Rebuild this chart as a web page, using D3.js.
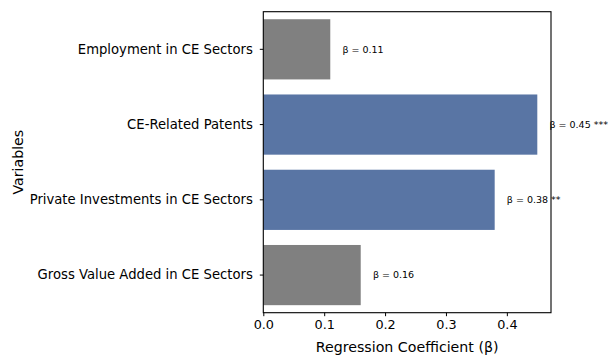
<!DOCTYPE html>
<html><head><meta charset="utf-8">
<script src="https://cdn.jsdelivr.net/npm/d3@7"></script>
<style>body{margin:0;background:#fff}svg{display:block}text{font-family:"DejaVu Sans",sans-serif}</style>
</head><body><svg id="c" width="608" height="356"></svg>
<script>
const categories = ["Employment in CE Sectors","CE-Related Patents","Private Investments in CE Sectors","Gross Value Added in CE Sectors"];
const values = [0.11, 0.45, 0.38, 0.16];
const stars = ["", "***", "**", ""];
const significant = [false, true, true, false];
const xTicks = [0.0, 0.1, 0.2, 0.3, 0.4];
const xTickLabels = ["0.0","0.1","0.2","0.3","0.4"];

const W = 608, H = 356;
const m = {left: 263.3, top: 11.7, right: 57, bottom: 43.3};
const svg = d3.select("#c");
const x = d3.scaleLinear().domain([0, 0.4725]).range([m.left, W - m.right]);
const y = d3.scaleBand().domain(categories).range([m.top, H - m.bottom]).paddingInner(0.2).paddingOuter(0.1);

svg.append("g").selectAll("rect").data(categories).join("rect")
  .attr("x", x(0)).attr("y", d => y(d))
  .attr("width", (d,i) => x(values[i]) - x(0))
  .attr("height", y.bandwidth())
  .attr("fill", (d,i) => significant[i] ? "#5975a4" : "#808080");

svg.append("g").selectAll("text").data(categories).join("text")
  .attr("x", (d,i) => x(values[i] + 0.02))
  .attr("y", d => y(d) + y.bandwidth()/2)
  .attr("dy", "0.35em")
  .attr("font-size", 9.5)
  .attr("fill", "#000")
  .text((d,i) => "β = " + values[i].toFixed(2) + (stars[i] ? " " + stars[i] : ""));

// frame
svg.append("rect").attr("x", m.left).attr("y", m.top)
  .attr("width", W - m.right - m.left).attr("height", H - m.bottom - m.top)
  .attr("fill", "none").attr("stroke", "#000").attr("stroke-width", 1.1);

const xAxis = d3.axisBottom(x).tickValues(xTicks).tickFormat((d,i) => xTickLabels[i]).tickSize(3.5).tickPadding(3.5);
const gx = svg.append("g").attr("transform", `translate(0,${H - m.bottom})`).call(xAxis);
gx.select(".domain").remove();
gx.selectAll("line").attr("stroke", "#000").attr("stroke-width", 1);
gx.selectAll("text").attr("font-size", 12.8).attr("font-family", "DejaVu Sans").attr("fill", "#000");

const yAxis = d3.axisLeft(y).tickSize(3.5).tickPadding(7);
const gy = svg.append("g").attr("transform", `translate(${m.left},0)`).call(yAxis);
gy.select(".domain").remove();
gy.selectAll("line").attr("stroke", "#000").attr("stroke-width", 1);
gy.selectAll("text").attr("font-size", 13.2).attr("font-family", "DejaVu Sans").attr("fill", "#000");

svg.append("text").attr("x", (m.left + W - m.right)/2).attr("y", 351.5)
  .attr("text-anchor", "middle").attr("font-size", 14.2).text("Regression Coefficient (β)");
svg.append("text").attr("transform", `translate(22.5,${(m.top + H - m.bottom)/2}) rotate(-90)`)
  .attr("text-anchor", "middle").attr("font-size", 14.2).text("Variables");
</script></body></html>
